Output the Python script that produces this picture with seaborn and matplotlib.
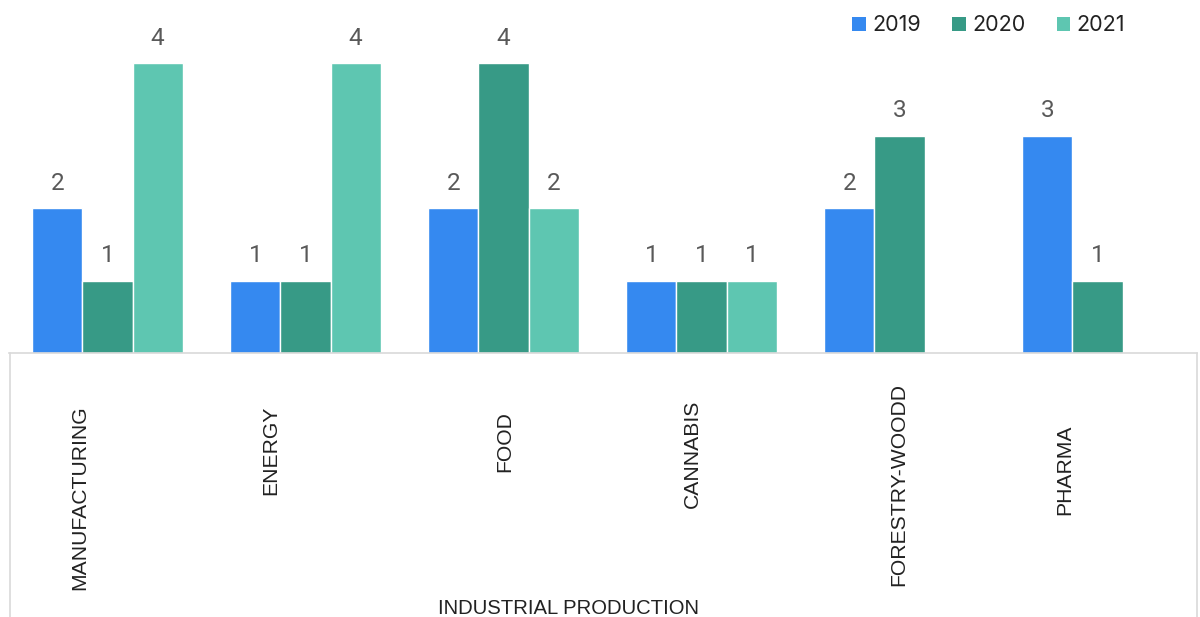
import numpy as np
import pandas as pd
import matplotlib
matplotlib.use("Agg")
import matplotlib.pyplot as plt
import seaborn as sns
from matplotlib.patches import Patch
from matplotlib.lines import Line2D

categories = ["MANUFACTURING", "ENERGY", "FOOD", "CANNABIS", "FORESTRY-WOODD", "PHARMA"]
years = ["2019", "2020", "2021"]
v2019 = [2, 1, 2, 1, 2, 3]
v2020 = [1, 1, 4, 1, 3, 1]
v2021 = [4, 4, 2, 1, np.nan, np.nan]
group_label = "INDUSTRIAL PRODUCTION"

colors = ["#3589F0", "#379A86", "#5EC6B1"]

rows = []
for yr, vals in zip(years, [v2019, v2020, v2021]):
    for c, v in zip(categories, vals):
        if not np.isnan(v):
            rows.append({"category": c, "year": yr, "value": v})
df = pd.DataFrame(rows)

sns.set_theme(style="white")
W, H = 1200, 617
fig = plt.figure(figsize=(W / 100, H / 100), dpi=100)
base_px = 353
ax = fig.add_axes([8.5 / W, (H - base_px) / H, 1188 / W, base_px / H])

sns.barplot(data=df, x="category", y="value", hue="year", order=categories,
            hue_order=years, palette=colors, width=0.76, gap=0,
            edgecolor="white", linewidth=1, saturation=1, ax=ax, legend=False)

ax.set_xlim(-0.5, 5.5)
ax.set_ylim(0, base_px / 72.5)
for c in ax.containers:
    ax.bar_label(c, fmt="%d", padding=9.5, fontsize=17.5, color="#595959",
                 family="Roboto")

ax.set_xticks([])
ax.set_yticks([])
ax.set_xlabel("")
ax.set_ylabel("")
for s in ["top", "left", "right"]:
    ax.spines[s].set_visible(False)
ax.spines["bottom"].set_color("#d9d9d9")
ax.spines["bottom"].set_linewidth(1.2)

# category box below the axis
fig.add_artist(Line2D([9.5 / W, 9.5 / W], [0, (H - base_px) / H],
                      color="#d9d9d9", lw=1.2, transform=fig.transFigure))
fig.add_artist(Line2D([1197 / W, 1197 / W], [0, (H - base_px) / H],
                      color="#d9d9d9", lw=1.2, transform=fig.transFigure))

# category labels (rotated) — offsets/positions as styling
label_dx = [-0.141, -0.177, 0.005, -0.045, -0.005, -0.167]
label_ypx = [498, 450, 442, 454, 485, 470]
trans = matplotlib.transforms.blended_transform_factory(ax.transData, fig.transFigure)
for i, (c, dx, ypx) in enumerate(zip(categories, label_dx, label_ypx)):
    ax.text(i + dx, 1 - ypx / H, c, rotation=90, ha="center", va="center",
            fontsize=15.2, color="#222222", family="Liberation Sans",
            transform=trans, clip_on=False)

fig.text(569 / W, 1 - 608 / H, group_label, ha="center", va="center",
         fontsize=14.6, color="#222222", family="Liberation Sans")

handles = [Patch(facecolor=col, edgecolor="none", label=yr) for col, yr in zip(colors, years)]
leg = fig.legend(handles=handles, loc="upper left", bbox_to_anchor=(846 / W, 1 - 9 / H),
                 ncol=3, frameon=False, fontsize=15.5, handlelength=0.62,
                 handleheight=0.62, handletextpad=0.3, columnspacing=1.45,
                 borderaxespad=0, borderpad=0.3)
for t in leg.get_texts():
    t.set_family("Inter")
    t.set_color("#222222")

fig.savefig("out.png", dpi=100)
